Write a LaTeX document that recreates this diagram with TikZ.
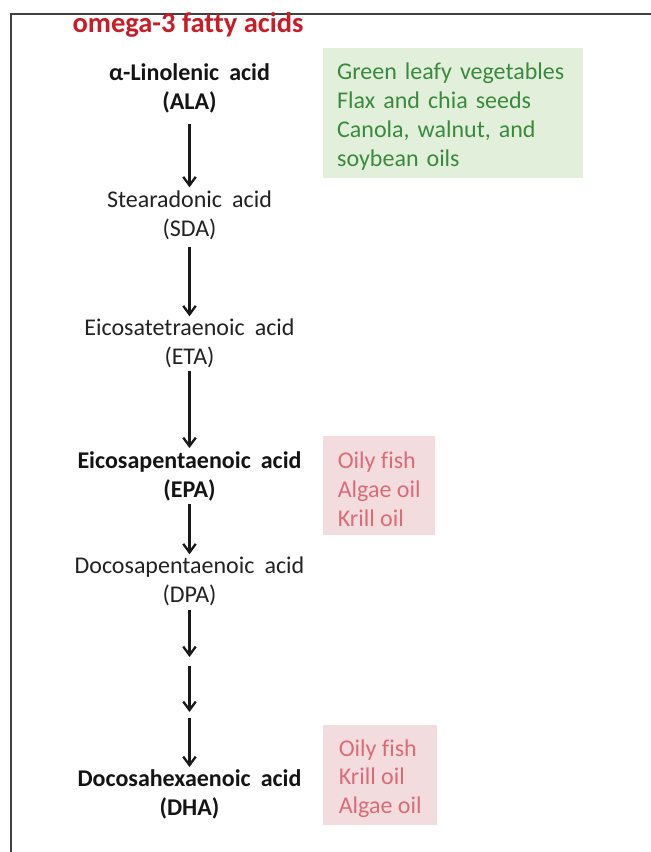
\documentclass[tikz,border=0pt]{standalone}
\usepackage{fontspec}
\setmainfont{Carlito}[Ligatures=NoCommon]
\usetikzlibrary{arrows.meta}
\definecolor{titlered}{RGB}{200,28,38}
\definecolor{acidgray}{RGB}{34,34,34}
\definecolor{framegray}{RGB}{64,64,64}
\definecolor{greenfill}{RGB}{226,239,218}
\definecolor{greentext}{RGB}{58,138,62}
\definecolor{pinkfill}{RGB}{242,220,221}
\definecolor{pinktext}{RGB}{218,108,120}
\newcommand{\wgap}{\hspace{0.42em}}
\newcommand{\topstrut}{\rule{0pt}{23.5pt}}
\begin{document}
\begin{tikzpicture}[x=1pt,y=-1pt,
  acid/.style={align=center, inner sep=0pt, font=\fontsize{24}{29}\selectfont, text=acidgray},
  keyacid/.style={align=center, inner sep=0pt, font=\bfseries\fontsize{24}{29}\selectfont, text=black!92},
  arr/.style={-{Straight Barb[length=8.5pt,width=12.5pt,line width=2.3pt]}, line width=2.3pt, draw=black!90},
  frame/.style={line width=2pt, draw=framegray},
  srcbox/.style={rectangle, inner xsep=14pt, inner ysep=0pt, align=left, anchor=north west,
                 font=\fontsize{24}{28.7}\selectfont}
]
\useasboundingbox (0,0) rectangle (651,852);
\fill[white] (0,0) rectangle (651,852);
\draw[frame] (11,852) -- (11,14) -- (651,14);

\node[font=\bfseries\fontsize{28.5}{32}\selectfont, text=titlered, inner sep=0pt] (title) at (188,25) {omega-3 fatty acids};

\node[keyacid] (ala) at (189.5,88) {α-Linolenic\wgap acid\\(ALA)};
\node[acid] (sda) at (189.5,215) {Stearadonic\wgap acid\\(SDA)};
\node[acid] (eta) at (189.5,343) {Eicosatetraenoic\wgap acid\\(ETA)};
\node[keyacid] (epa) at (189.5,476) {Eicosapentaenoic\wgap acid\\(EPA)};
\node[acid] (dpa) at (189.5,581) {Docosapentaenoic\wgap acid\\(DPA)};
\node[keyacid] (dha) at (189.5,794) {Docosahexaenoic\wgap acid\\(DHA)};

\coordinate (c1) at (189.5,659);
\coordinate (c2) at (189.5,714);

\draw[arr] ([yshift=-11pt]ala.south) -- ([yshift=3pt]sda.north);
\draw[arr] ([yshift=-7pt]sda.south) -- ([yshift=2pt]eta.north);
\draw[arr] ([yshift=-3pt]eta.south) -- ([yshift=3pt]epa.north);
\draw[arr] ([yshift=-3pt]epa.south) -- ([yshift=2pt]dpa.north);
\draw[arr] ([yshift=-4pt]dpa.south) -- ([yshift=2pt]c1);
\draw[arr] ([yshift=-7pt]c1) -- ([yshift=2pt]c2);
\draw[arr] ([yshift=-4pt]c2) -- ([yshift=2pt]dha.north);

\node[srcbox, fill=greenfill, text=greentext, text width=232pt, minimum height=130pt] (green) at (323,48)
  {\topstrut Green leafy vegetables\\Flax and chia seeds\\Canola, walnut, and\\soybean oils};
\node[srcbox, fill=pinkfill, text=pinktext, inner xsep=13pt, minimum width=112pt, minimum height=99pt] (pink1) at (323,436)
  {\topstrut Oily fish\\Algae oil\\Krill oil};
\node[srcbox, fill=pinkfill, text=pinktext, inner xsep=13pt, minimum width=114pt, minimum height=100pt] (pink2) at (323,725)
  {\topstrut Oily fish\\Krill oil\\Algae oil};
\end{tikzpicture}
\end{document}
